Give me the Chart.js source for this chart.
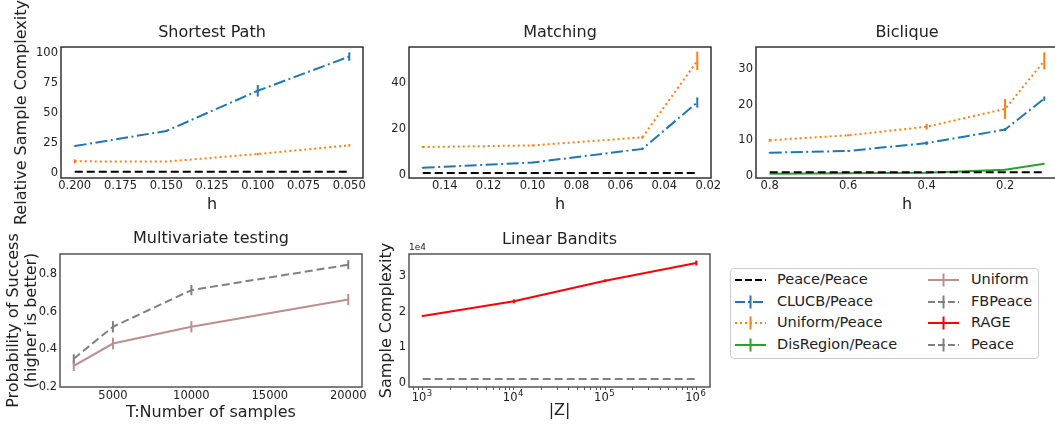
<!DOCTYPE html>
<html><head><meta charset="utf-8">
<script src="https://cdn.jsdelivr.net/npm/chart.js@4.4.0/dist/chart.umd.min.js"></script>
<style>
html,body{margin:0;padding:0;background:#fff;overflow:hidden;width:1055px;height:433px;position:relative;font-family:'DejaVu Sans',sans-serif;}
canvas{position:absolute;}
#legend{position:absolute;left:730px;top:267.5px;width:309px;height:91px;border:1px solid #cccccc;border-radius:4px;box-sizing:border-box;}
#legend .txt{position:absolute;font-size:14.5px;line-height:17px;color:#222;white-space:nowrap;}
#legend svg{position:absolute;}
</style></head><body>
<canvas id="c1"></canvas><canvas id="c2"></canvas><canvas id="c3"></canvas><canvas id="c4"></canvas><canvas id="c5"></canvas>
<div id="legend"></div>
<script>
// ---------- data ----------
// Shortest Path
const spH = [0.2, 0.15, 0.1, 0.05];
const spPeace = [1, 1, 1, 1];
const spClucb = [22.4, 35, 68.5, 97];
const spClucbErr = [0.5, 0.5, 4.8, 3.5];
const spUniform = [9.7, 9.5, 15.8, 23];
const spUniformErr = [1.7, 0.3, 1, 1];
const spXTicks = [0.2, 0.175, 0.15, 0.125, 0.1, 0.075, 0.05];
const spXLabels = ['0.200', '0.175', '0.150', '0.125', '0.100', '0.075', '0.050'];
const spYTicks = [0, 25, 50, 75, 100];
const spYLabels = ['0', '25', '50', '75', '100'];

// Matching
const mH = [0.15, 0.1, 0.05, 0.025];
const mPeace = [1, 1, 1, 1];
const mClucb = [3.2, 5.5, 11.4, 31.5];
const mClucbErr = [0.3, 0.3, 0.5, 2.2];
const mUniform = [12.2, 12.9, 16.4, 49.5];
const mUniformErr = [0.4, 0.4, 0.6, 4];
const mXTicks = [0.14, 0.12, 0.10, 0.08, 0.06, 0.04, 0.02];
const mXLabels = ['0.14', '0.12', '0.10', '0.08', '0.06', '0.04', '0.02'];
const mYTicks = [0, 20, 40];
const mYLabels = ['0', '20', '40'];

// Biclique
const bH = [0.8, 0.6, 0.4, 0.2, 0.1];
const bPeace = [1, 1, 1, 1, 1];
const bClucb = [6.5, 7.0, 9.2, 13.0, 21.7];
const bClucbErr = [0.2, 0.2, 0.5, 0.4, 0.6];
const bUniform = [10.0, 11.4, 13.8, 18.8, 32.3];
const bUniformErr = [0.4, 0.3, 0.8, 2.8, 2.4];
const bDis = [0.6, 0.75, 0.9, 1.7, 3.4];
const bDisErr = [0.05, 0.05, 0.05, 0.1, 0.1];
const bXTicks = [0.8, 0.6, 0.4, 0.2];
const bXLabels = ['0.8', '0.6', '0.4', '0.2'];
const bYTicks = [0, 10, 20, 30];
const bYLabels = ['0', '10', '20', '30'];

// Multivariate testing
const mvT = [2500, 5000, 10000, 20000];
const mvUniform = [0.312, 0.431, 0.52, 0.665];
const mvUniformErr = [0.027, 0.031, 0.03, 0.03];
const mvFB = [0.35, 0.52, 0.715, 0.85];
const mvFBErr = [0.024, 0.03, 0.027, 0.024];
const mvXTicks = [5000, 10000, 15000, 20000];
const mvXLabels = ['5000', '10000', '15000', '20000'];
const mvYTicks = [0.2, 0.4, 0.6, 0.8];
const mvYLabels = ['0.2', '0.4', '0.6', '0.8'];

// Linear Bandits
const lbZ = [1000, 10000, 100000, 1000000];
const lbRage = [18900, 23000, 28800, 33800];
const lbRageErr = [250, 550, 420, 700];
const lbPeace = [1130, 1130, 1130, 1130];
const lbMajor = [1000, 10000, 100000, 1000000];
const lbMajorBase = ['10', '10', '10', '10'];
const lbMajorExp = ['3', '4', '5', '6'];
const lbYTicks = [0, 10000, 20000, 30000];
const lbYLabels = ['0', '1', '2', '3'];

const legendLabels = ['Peace/Peace', 'CLUCB/Peace', 'Uniform/Peace', 'DisRegion/Peace', 'Uniform', 'FBPeace', 'RAGE', 'Peace'];

// ---------- styles ----------
const FONT = 'DejaVu Sans';
Chart.defaults.font.family = FONT;
Chart.defaults.color = '#222';
const C = {peace:'#000000', clucb:'#1f77b4', unif:'#ff7f0e', dis:'#2ca02c', rosy:'#bc8f8f', gray:'#808080', red:'#ff0000'};
const DASH = {dashed:[8,4], dashdot:[12,3.5,2,3.5], dotted:[2,3], solid:[]};

function pts(xs, ys){ return xs.map((x,i)=>({x:x, y:ys[i]})); }
function ds(xs, ys, color, dash, errs){
  return {data:pts(xs,ys), borderColor:color, backgroundColor:color, borderWidth:2, borderDash:dash,
          pointRadius:0, tension:0, fill:false, errors:errs||null};
}

const errPlugin = {
  id:'errbars',
  afterDatasetsDraw(chart){
    const ctx = chart.ctx, ys = chart.scales.y, a = chart.chartArea;
    ctx.save();
    ctx.beginPath(); ctx.rect(a.left, a.top, a.right-a.left, a.bottom-a.top); ctx.clip();
    chart.data.datasets.forEach((d,i)=>{
      if(!d.errors) return;
      const meta = chart.getDatasetMeta(i);
      meta.data.forEach((p,j)=>{
        const v = d.data[j].y, e = d.errors[j];
        if(!e) return;
        ctx.strokeStyle = d.borderColor; ctx.lineWidth = 2; ctx.setLineDash([]);
        ctx.beginPath();
        ctx.moveTo(p.x, ys.getPixelForValue(v-e));
        ctx.lineTo(p.x, ys.getPixelForValue(v+e));
        ctx.stroke();
      });
    });
    ctx.restore();
  }
};
const framePlugin = {
  id:'frame',
  beforeDraw(chart){
    // centre the title over the plotting area, as in the reference
    if (chart.titleBlock) {
      chart.titleBlock.left = chart.chartArea.left;
      chart.titleBlock.right = chart.chartArea.right;
      chart.titleBlock.width = chart.chartArea.right - chart.chartArea.left;
    }
  },
  afterDatasetsDraw(chart, args, o){
    const a = chart.chartArea, ctx = chart.ctx;
    ctx.save(); ctx.strokeStyle = o.color || '#333'; ctx.lineWidth = 1.5; ctx.setLineDash([]);
    ctx.strokeRect(a.left, a.top, a.right-a.left, a.bottom-a.top);
    if (o.offsetText) {
      ctx.fillStyle = '#222'; ctx.font = '9px "DejaVu Sans"'; ctx.textBaseline = 'alphabetic'; ctx.textAlign = 'left';
      ctx.fillText(o.offsetText, a.left, a.top - 4);
    }
    if (o.powLabels) {
      const xs = chart.scales.x;
      const pl = o.powLabels;
      ctx.fillStyle = '#222'; ctx.textAlign = 'left'; ctx.textBaseline = 'middle';
      pl.values.forEach((v, i) => {
        const px = xs.getPixelForValue(v);
        ctx.font = '11.5px "DejaVu Sans"';
        const w1 = ctx.measureText(pl.base[i]).width;
        ctx.font = '8.5px "DejaVu Sans"';
        const w2 = ctx.measureText(pl.exp[i]).width;
        const x0 = px - (w1 + w2) / 2 - 1;
        ctx.font = '11.5px "DejaVu Sans"';
        ctx.fillText(pl.base[i], x0, a.bottom + 11.5);
        ctx.font = '8.5px "DejaVu Sans"';
        ctx.fillText(pl.exp[i], x0 + w1 + 0.5, a.bottom + 7);
      });
    }
    ctx.restore();
  }
};

function build(id, box, area, o){
  const cv = document.getElementById(id);
  cv.width = box.w; cv.height = box.h;
  Object.assign(cv.style, {left:box.l+'px', top:box.t+'px', width:box.w+'px', height:box.h+'px'});
  const yW = area.x0 - box.l, xH = box.t + box.h - area.y1, tH = area.y0 - box.t, rP = box.l + box.w - area.x1;
  const tl = 16*1.2;
  const tTop = o.titleCenter - box.t - tl/2;
  const isLog = o.xType === 'logarithmic';
  const xTicksAll = o.xTicks, xLabelsAll = o.xLabels;
  return new Chart(cv, {
    type:'line',
    data:{datasets:o.datasets},
    options:{
      responsive:false, animation:false, devicePixelRatio:1,
      layout:{padding:{left:0, top:0, right:rP, bottom:0}},
      plugins:{
        legend:{display:false}, tooltip:{enabled:false},
        title:{display:true, text:o.title, color:'#222', font:{family:FONT, size:16, weight:'normal', lineHeight:1.2},
               padding:{top:tTop, bottom:tH - tTop - tl}},
        frame:{color:o.frameColor, offsetText:o.offsetText, powLabels:o.powLabels}
      },
      scales:{
        x:{
          type:o.xType || 'linear', reverse:!!o.xReverse, min:o.xMin, max:o.xMax, bounds:'data',
          afterFit:s=>{ s.height = xH; },
          afterBuildTicks:s=>{ s.ticks = xTicksAll.map(v=>({value:v})); },
          ticks:{autoSkip:false, maxRotation:0, minRotation:0, padding:o.xPad, color:'#222', font:{size:11.5},
                 callback:(v,i)=>xLabelsAll[i]},
          grid: isLog ? {display:true, drawOnChartArea:false, drawTicks:true, tickLength:3, color:'#555', tickColor:'#555', lineWidth:1}
                      : {display:false, drawTicks:false},
          border:{display:false},
          title:{display:true, text:o.xTitle, color:'#222', font:{size:16, lineHeight:1.2},
                 padding:{top:0, bottom:box.t + box.h - o.xTitleCenter - 9.6}}
        },
        y:{
          type:'linear', min:o.yMin, max:o.yMax, bounds:'data',
          afterFit:s=>{ s.width = yW; },
          afterBuildTicks:s=>{ s.ticks = o.yTicks.map(v=>({value:v})); },
          ticks:{autoSkip:false, padding:3, color:'#222', font:{size:11.5}, callback:(v,i)=>o.yLabels[i]},
          grid:{display:false, drawTicks:false},
          border:{display:false},
          title: o.yTitle ? {display:true, text:o.yTitle, color:'#222', font:{size:16, lineHeight:o.yTitleLH || 1.2},
                 padding:{top:o.yTitleX - box.l - 16*(o.yTitleLH||1.2)/2, bottom:0}} : {display:false}
        }
      }
    },
    plugins:[errPlugin, framePlugin]
  });
}

// Shortest Path
build('c1', {l:0, t:0, w:372, h:235}, {x0:61, y0:47, x1:363, y1:178}, {
  title:'Shortest Path', titleCenter:33, frameColor:'#333',
  xMin:0.0425, xMax:0.2075, xReverse:true, xTicks:spXTicks, xLabels:spXLabels, xPad:1,
  xTitle:'h', xTitleCenter:205,
  yMin:-4.2, yMax:105, yTicks:spYTicks, yLabels:spYLabels,
  yTitle:'Relative Sample Complexity', yTitleX:21.5,
  datasets:[
    ds(spH, spPeace, C.peace, DASH.dashed),
    ds(spH, spClucb, C.clucb, DASH.dashdot, spClucbErr),
    ds(spH, spUniform, C.unif, DASH.dotted, spUniformErr)
  ]
});

// Matching
build('c2', {l:372, t:0, w:353, h:235}, {x0:409, y0:47, x1:711, y1:178}, {
  title:'Matching', titleCenter:33, frameColor:'#333',
  xMin:0.01875, xMax:0.15625, xReverse:true, xTicks:mXTicks, xLabels:mXLabels, xPad:1,
  xTitle:'h', xTitleCenter:205,
  yMin:-1.2, yMax:55.5, yTicks:mYTicks, yLabels:mYLabels,
  datasets:[
    ds(mH, mPeace, C.peace, DASH.dashed),
    ds(mH, mClucb, C.clucb, DASH.dashdot, mClucbErr),
    ds(mH, mUniform, C.unif, DASH.dotted, mUniformErr)
  ]
});

// Biclique
build('c3', {l:725, t:0, w:345, h:235}, {x0:756, y0:47, x1:1058, y1:178}, {
  title:'Biclique', titleCenter:33, frameColor:'#333',
  xMin:0.065, xMax:0.835, xReverse:true, xTicks:bXTicks, xLabels:bXLabels, xPad:1,
  xTitle:'h', xTitleCenter:205,
  yMin:-0.6, yMax:36.2, yTicks:bYTicks, yLabels:bYLabels,
  datasets:[
    ds(bH, bPeace, C.peace, DASH.dashed),
    ds(bH, bClucb, C.clucb, DASH.dashdot, bClucbErr),
    ds(bH, bUniform, C.unif, DASH.dotted, bUniformErr),
    ds(bH, bDis, C.dis, DASH.solid, bDisErr)
  ]
});

// Multivariate testing
build('c4', {l:0, t:215, w:372, h:218}, {x0:60, y0:254, x1:362, y1:387}, {
  title:'Multivariate testing', titleCenter:239, frameColor:'#555',
  xMin:1625, xMax:20875, xTicks:mvXTicks, xLabels:mvXLabels, xPad:2.5,
  xTitle:'T:Number of samples', xTitleCenter:413,
  yMin:0.2, yMax:0.907, yTicks:mvYTicks, yLabels:mvYLabels,
  yTitle:['Probability of Success', '(higher is better)'], yTitleX:13.5, yTitleLH:1.15,
  datasets:[
    ds(mvT, mvUniform, C.rosy, DASH.solid, mvUniformErr),
    ds(mvT, mvFB, C.gray, DASH.dashed, mvFBErr)
  ]
});

// Linear Bandits (log axis: major + minor tick positions, labels drawn as 10 with superscript)
const lbTicks = [];
for (let e = 2; e <= 6; e++) {
  for (let m = 1; m <= 9; m++) {
    const v = m * Math.pow(10, e);
    if (v < 707.9 || v > 1412538) continue;
    lbTicks.push(v);
  }
}
build('c5', {l:370, t:215, w:350, h:218}, {x0:409, y0:254, x1:710, y1:387}, {
  title:'Linear Bandits', titleCenter:240, frameColor:'#555', offsetText:'1e4',
  powLabels:{values:lbMajor, base:lbMajorBase, exp:lbMajorExp},
  xType:'logarithmic', xMin:707.9, xMax:1412538, xTicks:lbTicks, xLabels:lbTicks.map(()=>''), xPad:1.5,
  xTitle:'|Z|', xTitleCenter:411,
  yMin:-1130, yMax:36340, yTicks:lbYTicks, yLabels:lbYLabels,
  yTitle:'Sample Complexity', yTitleX:386.5,
  datasets:[
    ds(lbZ, lbRage, C.red, DASH.solid, lbRageErr),
    ds(lbZ, lbPeace, C.gray, DASH.dashed)
  ]
});

// ---------- legend ----------
const legendStyles = [
  {c:C.peace, d:'7,3', err:false}, {c:C.clucb, d:'10,3,2,3', err:true}, {c:C.unif, d:'2,3', err:true}, {c:C.dis, d:'', err:true},
  {c:C.rosy, d:'', err:true}, {c:C.gray, d:'7,3', err:true}, {c:C.red, d:'', err:true}, {c:C.gray, d:'7,3', err:true}
];
const leg = document.getElementById('legend');
const rowCenters = [11.5, 33, 54.5, 76.5];
legendLabels.forEach((lab, i) => {
  const col = Math.floor(i / 4), row = i % 4;
  const st = legendStyles[i];
  const hx = col === 0 ? 4 : 197, tx = col === 0 ? 46 : 240;
  const cy = rowCenters[row];
  const svg = `<svg width="31" height="16" style="left:${hx}px;top:${cy-8}px">
    <line x1="0" y1="8" x2="31" y2="8" stroke="${st.c}" stroke-width="2" ${st.d ? `stroke-dasharray="${st.d}"` : ''}/>
    ${st.err ? `<line x1="15.5" y1="1.5" x2="15.5" y2="14.5" stroke="${st.c}" stroke-width="2"/>` : ''}
  </svg>`;
  leg.insertAdjacentHTML('beforeend', svg + `<span class="txt" style="left:${tx}px;top:${cy-9}px">${lab}</span>`);
});
</script>
</body></html>
